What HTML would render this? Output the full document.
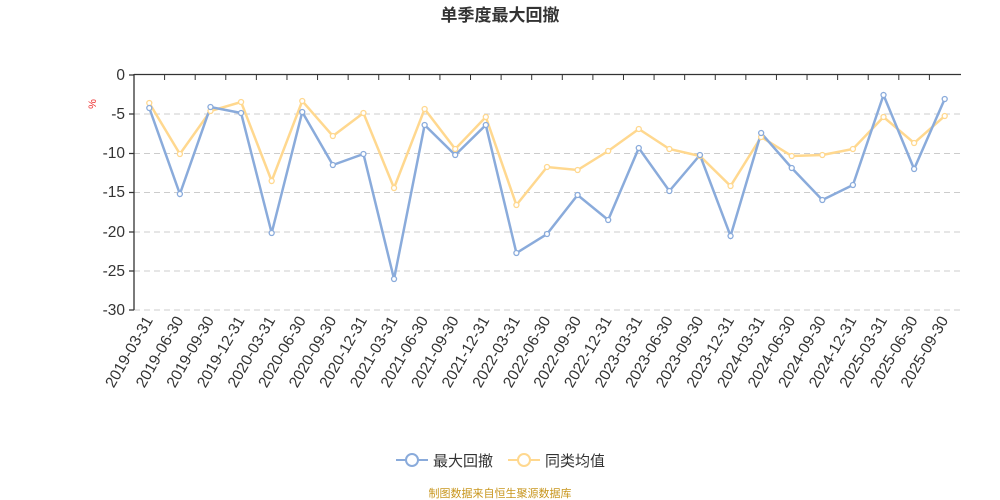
<!DOCTYPE html>
<html><head><meta charset="utf-8"><style>body{margin:0;background:#fff}svg{display:block}</style></head><body>
<svg width="1000" height="500" xmlns="http://www.w3.org/2000/svg" font-family="Liberation Sans, Noto Sans CJK SC, sans-serif">
<text x="500" y="21" text-anchor="middle" font-size="17" font-weight="bold" fill="#333">单季度最大回撤</text>
<text x="96" y="104" font-size="11" fill="#e33" transform="rotate(-90 96 104)" text-anchor="middle">%</text>
<g id="grid" stroke="#ccc" stroke-dasharray="6,4" stroke-width="1">
<line x1="134" x2="960" y1="114" y2="114"/><line x1="134" x2="960" y1="153.5" y2="153.5"/><line x1="134" x2="960" y1="192.5" y2="192.5"/><line x1="134" x2="960" y1="232" y2="232"/><line x1="134" x2="960" y1="271" y2="271"/><line x1="134" x2="960" y1="310" y2="310"/>
</g>
<g stroke="#333" stroke-width="1.3" fill="none">
<line x1="134" y1="74.5" x2="961" y2="74.5"/><line x1="134" y1="74" x2="134" y2="310"/>
<path d="M129 75H134M129 114H134M129 153.5H134M129 192.5H134M129 232H134M129 271H134M129 310H134"/>
</g>
<g font-size="15.5" fill="#333" text-anchor="end">
<text x="125" y="80">0</text><text x="125" y="119">-5</text><text x="125" y="158">-10</text><text x="125" y="197">-15</text><text x="125" y="237">-20</text><text x="125" y="276">-25</text><text x="125" y="315">-30</text>
</g>
<g id="ticks" stroke="#333" stroke-width="1"></g>
<g id="labels" font-size="15.5" fill="#333" text-anchor="end"></g>
<polyline id="y" fill="none" stroke="#ffd88f" stroke-width="2.5"/>
<polyline id="b" fill="none" stroke="#8aabdb" stroke-width="2.5"/>
<g id="pts"></g>
<g font-size="15" fill="#333">
<line x1="396" y1="460" x2="428" y2="460" stroke="#8aabdb" stroke-width="2"/><circle cx="412" cy="460" r="6" fill="#fff" stroke="#8aabdb" stroke-width="2"/>
<text x="433" y="466">最大回撤</text>
<line x1="508" y1="460" x2="540" y2="460" stroke="#ffd88f" stroke-width="2"/><circle cx="524" cy="460" r="6" fill="#fff" stroke="#ffd88f" stroke-width="2"/>
<text x="545" y="466">同类均值</text>
</g>
<text x="500" y="497" text-anchor="middle" font-size="11" fill="#c8961e">制图数据来自恒生聚源数据库</text>
</svg>
<script>
var NS="http://www.w3.org/2000/svg";
var dates=["2019-03-31","2019-06-30","2019-09-30","2019-12-31","2020-03-31","2020-06-30","2020-09-30","2020-12-31","2021-03-31","2021-06-30","2021-09-30","2021-12-31","2022-03-31","2022-06-30","2022-09-30","2022-12-31","2023-03-31","2023-06-30","2023-09-30","2023-12-31","2024-03-31","2024-06-30","2024-09-30","2024-12-31","2025-03-31","2025-06-30","2025-09-30"];
var B=[108,194,107,113,233,112,165,154,279,125,155,125,253,234,195,220,148,191,155,236,133,168,200,185,95,169,99];
var Y=[103,154,111,102,181,101,136,113,188,109,149,117,205,167,170,151,129,149,156,186,137,156,155,149,117,143,116];
var w=(960-134)/27,tk=document.getElementById('ticks'),lb=document.getElementById('labels'),pts=document.getElementById('pts');
var pb=[],py=[];
for(var i=0;i<27;i++){
 var tx=134+i*w;
 if(i>0){var l=document.createElementNS(NS,'line');l.setAttribute('x1',tx);l.setAttribute('x2',tx);l.setAttribute('y1',75);l.setAttribute('y2',80);tk.appendChild(l);}
 var cx=134+(i+0.5)*w;
 var t=document.createElementNS(NS,'text');t.setAttribute('x',cx+4);t.setAttribute('y',320);t.setAttribute('transform','rotate(-60 '+(cx+4)+' 320)');t.textContent=dates[i];lb.appendChild(t);
 pb.push(cx+','+B[i]);py.push(cx+','+Y[i]);
}
document.getElementById('b').setAttribute('points',pb.join(' '));
document.getElementById('y').setAttribute('points',py.join(' '));
[[Y,'#ffd88f'],[B,'#8aabdb']].forEach(function(s){for(var i=0;i<27;i++){var c=document.createElementNS(NS,'circle');c.setAttribute('cx',134+(i+0.5)*w);c.setAttribute('cy',s[0][i]);c.setAttribute('r',2.5);c.setAttribute('fill','#fff');c.setAttribute('stroke',s[1]);c.setAttribute('stroke-width',1.3);pts.appendChild(c);}});
</script>
</body></html>
